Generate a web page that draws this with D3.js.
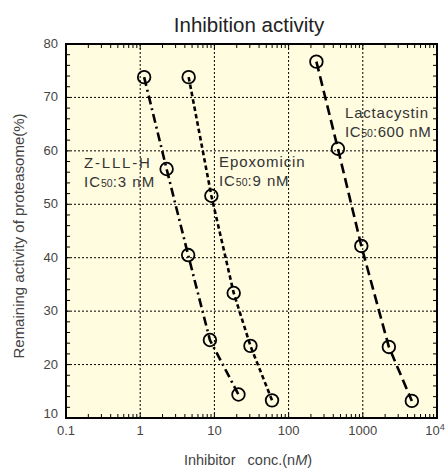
<!DOCTYPE html>
<html>
<head>
<meta charset="utf-8">
<script src="https://cdn.jsdelivr.net/npm/d3@7"></script>
<style>
  body { margin: 0; background: #fff; }
  text { font-family: "Liberation Sans", Arial, sans-serif; }
</style>
</head>
<body>
<div id="chart"></div>
<script>
// data
var zlllConc = [1.13, 2.27, 4.43, 8.7, 21.1];
var zlllAct = [73.8, 56.6, 40.5, 24.6, 14.4];
var epoxConc = [4.5, 9.1, 18.2, 30.6, 59.8];
var epoxAct = [73.8, 51.6, 33.4, 23.5, 13.3];
var lactConc = [237, 462, 955, 2245, 4580];
var lactAct = [76.7, 60.4, 42.2, 23.3, 13.2];

var xTicks = [0.1, 1, 10, 100, 1000, 10000];
var xTickLabels = ["0.1", "1", "10", "100", "1000", "10"];
var yTicks = [10, 20, 30, 40, 50, 60, 70, 80];

var width = 445, height = 468;
var pLeft = 66, pRight = 437, pTop = 44, pBottom = 418;

var svg = d3.select("#chart").append("svg")
  .attr("width", width)
  .attr("height", height);

var x = d3.scaleLog().domain([0.1, 10000]).range([pLeft, pRight]);
var y = d3.scaleLinear().domain([10, 80]).range([pBottom, pTop]);

// plot background
svg.append("rect")
  .attr("x", pLeft).attr("y", pTop)
  .attr("width", pRight - pLeft).attr("height", pBottom - pTop)
  .attr("fill", "#fffce0");

// grid
svg.append("g").selectAll("line")
  .data(yTicks.filter(d => d > 10 && d < 80))
  .join("line")
  .attr("x1", pLeft).attr("x2", pRight)
  .attr("y1", d => y(d)).attr("y2", d => y(d))
  .attr("stroke", "#000").attr("stroke-width", 1)
  .attr("stroke-dasharray", "2,2");

svg.append("g").selectAll("line")
  .data(xTicks.filter(d => d > 0.1 && d < 10000))
  .join("line")
  .attr("x1", d => x(d)).attr("x2", d => x(d))
  .attr("y1", pTop).attr("y2", pBottom)
  .attr("stroke", "#000").attr("stroke-width", 1)
  .attr("stroke-dasharray", "2,2");

// minor ticks (inward) on all four sides
var logTicks = x.ticks();
var minorY = d3.range(10, 81, 2);

var ticks = svg.append("g").attr("stroke", "#000").attr("stroke-width", 1);
logTicks.forEach(function (d) {
  if (d <= 0.1 || d >= 10000) return;
  var major = Math.abs(Math.log10(d) - Math.round(Math.log10(d))) < 1e-9;
  var len = major ? 5 : 4;
  ticks.append("line").attr("x1", x(d)).attr("x2", x(d)).attr("y1", pBottom).attr("y2", pBottom - len);
  ticks.append("line").attr("x1", x(d)).attr("x2", x(d)).attr("y1", pTop).attr("y2", pTop + len);
});
minorY.forEach(function (d) {
  if (d <= 10 || d >= 80) return;
  ticks.append("line").attr("x1", pLeft).attr("x2", pLeft + 4).attr("y1", y(d)).attr("y2", y(d));
  ticks.append("line").attr("x1", pRight).attr("x2", pRight - 4).attr("y1", y(d)).attr("y2", y(d));
});

// frame
svg.append("rect")
  .attr("x", pLeft).attr("y", pTop)
  .attr("width", pRight - pLeft).attr("height", pBottom - pTop)
  .attr("fill", "none").attr("stroke", "#000").attr("stroke-width", 2);

// tick labels
svg.append("g").selectAll("text")
  .data(yTicks)
  .join("text")
  .attr("x", pLeft - 8)
  .attr("y", d => y(d) + (d === 10 ? 0 : 4))
  .attr("text-anchor", "end")
  .attr("font-size", 13)
  .attr("fill", "#444")
  .text(d => d);

var xl = svg.append("g").selectAll("text")
  .data(xTicks)
  .join("text")
  .attr("x", (d, i) => x(d) + (i === 5 ? -2 : 0))
  .attr("y", pBottom + 17)
  .attr("text-anchor", "middle")
  .attr("font-size", 13)
  .attr("fill", "#444")
  .text((d, i) => xTickLabels[i]);
xl.filter((d, i) => i === 5).append("tspan")
  .attr("dy", -5).attr("font-size", 9).text("4");

// series
var series = [
  { conc: zlllConc, act: zlllAct, dash: "9,4,2,4" },
  { conc: epoxConc, act: epoxAct, dash: "4.5,3" },
  { conc: lactConc, act: lactAct, dash: "10,5" }
];

var line = d3.line().x(d => x(d[0])).y(d => y(d[1]));

series.forEach(function (s) {
  var pts = s.conc.map((c, i) => [c, s.act[i]]);
  svg.append("path")
    .attr("d", line(pts))
    .attr("fill", "none")
    .attr("stroke", "#000")
    .attr("stroke-width", 2.6)
    .attr("stroke-dasharray", s.dash);
  svg.append("g").selectAll("circle")
    .data(pts)
    .join("circle")
    .attr("cx", d => x(d[0]))
    .attr("cy", d => y(d[1]))
    .attr("r", 6.3)
    .attr("fill", "none")
    .attr("stroke", "#000")
    .attr("stroke-width", 1.8);
});

// annotations
function label(px, py, name, ic, spacing, icSpacing) {
  var g = svg.append("g").attr("fill", "#333").attr("font-size", 15);
  g.append("text").attr("x", px).attr("y", py)
    .attr("letter-spacing", spacing).text(name);
  var t = g.append("text").attr("x", px).attr("y", py + 19)
    .attr("letter-spacing", icSpacing);
  t.append("tspan").text("IC");
  t.append("tspan").attr("font-size", 10.5).attr("letter-spacing", 0).text("50");
  t.append("tspan").text(":" + ic);
}
label(84, 168, "Z-LLL-H", "3 nM", 1.8, 1.0);
label(219, 167, "Epoxomicin", "9 nM", 0.9, 0.9);
label(345, 118, "Lactacystin", "600 nM", 0.8, 0.6);

// titles
svg.append("text")
  .attr("x", 249).attr("y", 32)
  .attr("text-anchor", "middle")
  .attr("font-size", 20.5)
  .attr("fill", "#222")
  .text("Inhibition activity");

svg.append("text")
  .attr("transform", "translate(24,236) rotate(-90)")
  .attr("text-anchor", "middle")
  .attr("font-size", 15)
  .attr("fill", "#444")
  .text("Remaining activity of proteasome(%)");

var xt = svg.append("text")
  .attr("x", 248).attr("y", 465)
  .attr("text-anchor", "middle")
  .attr("font-size", 14.5)
  .attr("fill", "#444")
  .attr("xml:space", "preserve")
  .text("Inhibitor   conc.(n");
xt.append("tspan").attr("font-style", "italic").text("M");
xt.append("tspan").text(")");
</script>
</body>
</html>
